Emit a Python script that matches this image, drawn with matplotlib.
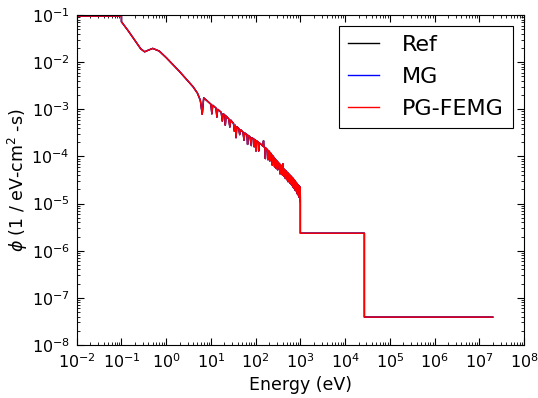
import matplotlib
matplotlib.use("Agg")
import matplotlib.pyplot as plt

# flux spectrum (energy in eV, flux in 1/eV-cm^2-s)
energy = [
    1e-2, 0.1, 0.1, 0.14, 0.2, 0.27, 0.33, 0.4, 0.5, 0.7, 1.0, 1.5, 2.0, 3.0, 4.0,
    5.0, 5.8, 6.4, 6.9, 8.0, 10.0, 10.5, 11.0, 13.0, 13.6, 14.2, 17.0, 18.0, 18.8,
    20.5, 21.0, 21.8, 25.0, 26.5, 27.8, 32.0, 33.5, 35.0, 36.5, 38.0, 42.0, 44.0,
    46.0, 52.0, 55.0, 57.0, 64.0, 66.0, 68.0, 75.0, 80.0, 82.0, 90.0, 93.0, 95.0,
    100, 102, 105, 115, 117, 120, 135, 145, 150, 153, 160, 165, 170, 185, 189, 193,
    205, 208, 212, 230, 237, 242, 260, 265, 270, 285, 291, 296, 305, 311, 316, 340,
    347, 352, 370, 376, 381, 395, 400, 405, 415, 425, 432, 455, 463, 470, 490, 500,
    510, 530, 535, 540, 575, 580, 586, 600, 610, 620, 650, 660, 670, 690, 695, 705,
    725, 730, 740, 765, 770, 780, 810, 820, 830, 850, 856, 862, 900, 905, 915, 940,
    945, 955, 975, 990, 995, 1000, 1000, 2.7e4, 2.7e4, 2e7,
]
flux = [
    0.095, 0.095, 0.072, 0.047, 0.029, 0.0192, 0.0166, 0.018, 0.0196, 0.0172, 0.0125,
    8.4e-3, 6.3e-3, 4.1e-3, 3.0e-3,
    2.2e-3, 1.55e-3, 7.8e-4, 1.75e-3, 1.55e-3, 1.28e-3, 8.0e-4, 1.22e-3, 1.06e-3,
    6.8e-4, 1.0e-3, 8.6e-4, 5.6e-4, 8.1e-4,
    7.5e-4, 4.6e-4, 7.2e-4, 6.3e-4, 4.2e-4, 5.9e-4, 5.0e-4, 3.4e-4, 4.6e-4, 2.5e-4,
    4.3e-4, 3.9e-4, 2.9e-4,
    3.7e-4, 3.3e-4, 2.2e-4, 3.15e-4, 2.9e-4, 1.8e-4, 2.8e-4, 2.6e-4, 1.7e-4, 2.5e-4,
    2.35e-4, 1.6e-4, 2.3e-4,
    2.2e-4, 1.3e-4, 2.15e-4, 2.0e-4, 1.3e-4, 1.95e-4, 1.78e-4, 1.65e-4, 2.15e-4,
    1.6e-4, 1.55e-4, 9.0e-5, 1.5e-4, 1.38e-4, 8.5e-5, 1.33e-4,
    1.25e-4, 8.0e-5, 1.2e-4, 1.08e-4, 6.5e-5, 1.03e-4, 9.3e-5, 6.0e-5, 9.0e-5, 8.4e-5,
    5.5e-5, 8.1e-5, 7.8e-5, 5.2e-5, 7.6e-5, 6.9e-5,
    4.3e-5, 6.8e-5, 6.4e-5, 4.2e-5, 6.2e-5, 5.9e-5, 4.0e-5, 7.0e-5, 5.6e-5, 3.8e-5,
    5.4e-5, 5.1e-5, 3.4e-5, 5.0e-5, 4.7e-5, 3.2e-5,
    4.6e-5, 4.4e-5, 2.9e-5, 4.35e-5, 4.0e-5, 2.7e-5, 4.0e-5, 3.9e-5, 2.6e-5, 3.8e-5,
    3.6e-5, 2.4e-5, 3.5e-5, 3.4e-5, 2.2e-5, 3.3e-5,
    3.15e-5, 2.1e-5, 3.1e-5, 2.95e-5, 1.9e-5, 2.9e-5, 2.75e-5, 1.8e-5, 2.7e-5, 2.6e-5,
    1.6e-5, 2.55e-5, 2.45e-5, 1.5e-5, 2.4e-5, 2.35e-5,
    1.35e-5, 2.3e-5, 2.25e-5, 1.1e-5, 2.2e-5, 1.15e-5, 2.35e-6, 2.35e-6, 3.9e-8, 3.9e-8,
]

series_names = ["Ref", "MG", "PG-FEMG"]
series_colors = ["black", "blue", "red"]

fig = plt.figure(figsize=(5.38, 3.98), dpi=100)
ax = fig.add_axes([0.1426, 0.1332, 0.8314, 0.829])

for name, col in zip(series_names, series_colors):
    ax.loglog(energy, flux, color=col, lw=1.0, label=name)

ax.set_xlim(1e-2, 1e8)
ax.set_ylim(1e-8, 1e-1)
ax.set_xlabel("Energy (eV)", fontsize=12.5)
ax.set_ylabel(r"$\phi$ (1 / eV-cm$^2$ -s)", fontsize=12.5, labelpad=1)

ax.tick_params(which="both", direction="in", top=True, right=True, labelsize=11.5)
ax.tick_params(which="major", length=5, width=0.8, pad=5)
ax.tick_params(which="minor", length=2.5, width=0.6)
ax.xaxis.set_major_locator(matplotlib.ticker.LogLocator(base=10, numticks=20))
ax.xaxis.set_minor_locator(matplotlib.ticker.LogLocator(base=10, subs=range(2, 10), numticks=20))
ax.yaxis.set_major_locator(matplotlib.ticker.LogLocator(base=10, numticks=20))
ax.yaxis.set_minor_locator(matplotlib.ticker.LogLocator(base=10, subs=range(2, 10), numticks=20))

leg = ax.legend(loc="upper right", fontsize=16, fancybox=False, framealpha=1,
                handlelength=1.4, handletextpad=1.05, borderpad=0.4, labelspacing=0.54)
leg.get_frame().set_edgecolor("black")
leg.get_frame().set_linewidth(0.8)

fig.savefig("out.png", dpi=100)
